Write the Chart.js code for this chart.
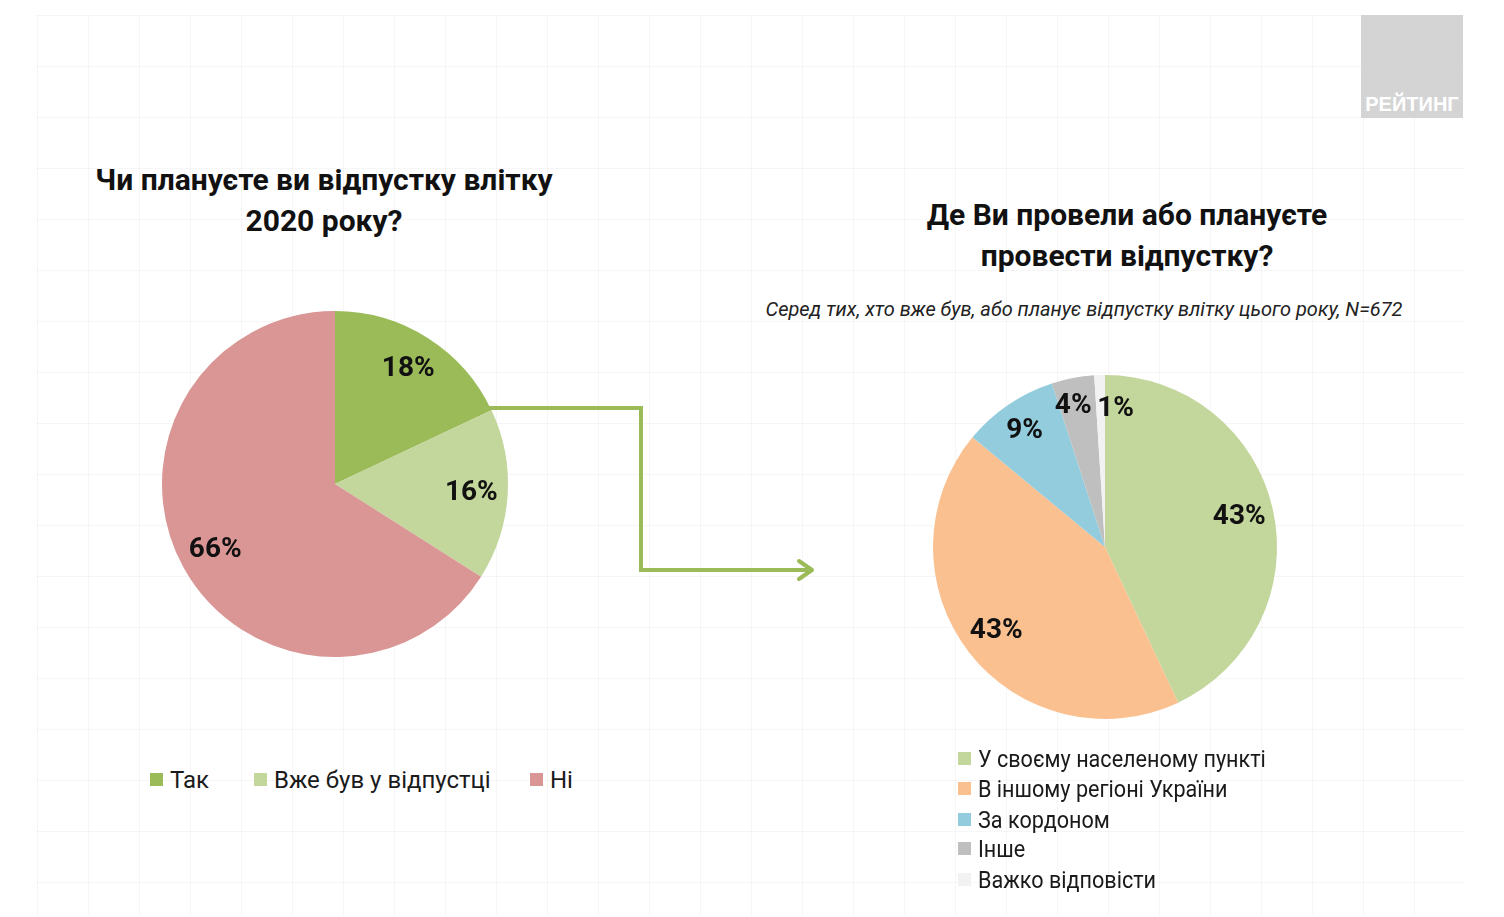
<!DOCTYPE html>
<html lang="uk">
<head>
<meta charset="utf-8">
<script src="https://cdn.jsdelivr.net/npm/chart.js@4.4.1/dist/chart.umd.min.js"></script>
<style>
    body {
        margin: 0;
        width: 1504px;
        height: 917px;
        background: #fff;
        position: relative;
        overflow: hidden;
        font-family: Roboto, "Liberation Sans", Arial, sans-serif;
        color: #1a1a1a;
    }
    #grid {
        position: absolute;
        left: 37px; top: 15px; width: 1428px; height: 900px;
        background-image:
            linear-gradient(rgba(0,0,0,0.035) 1px, transparent 1px),
            linear-gradient(90deg, rgba(0,0,0,0.035) 1px, transparent 1px);
        background-size: 51px 51px;
    }
    .title {
        position: absolute;
        font-weight: bold;
        font-size: 30px;
        line-height: 41px;
        text-align: center;
        white-space: nowrap;
        color: #111;
    }
    #sub {
        position: absolute;
        left: 684px; top: 297px; width: 800px;
        text-align: center;
        font-style: italic;
        font-size: 20px;
        color: #222;
    }
    #logo {
        position: absolute;
        left: 1361px; top: 15px; width: 102px; height: 103px;
        background: #d4d4d4;
    }
    #logo span {
        position: absolute;
        left: 0; right: 0; bottom: 2px;
        text-align: center;
        color: #fff;
        font-family: "Liberation Sans", Arial, sans-serif;
        font-weight: bold;
        font-size: 20px;
    }
    canvas { position: absolute; }
    #pie1 { left: 135px; top: 284px; }
    #pie2 { left: 905px; top: 347px; }
    .legend { position: absolute; font-size: 24px; color: #1a1a1a; }
    .legend .item { position: absolute; white-space: nowrap; }
    .legend .box {
        display: inline-block;
        width: 13px; height: 13px;
        margin-right: 7px;
        vertical-align: 2px;
    }
    .legend .txt { display: inline-block; transform-origin: left center; }
    #legend2 .txt { transform: scaleX(0.9); }
    svg { position: absolute; left: 0; top: 0; }
</style>
</head>
<body>
<div id="grid"></div>
<div id="logo"><span>РЕЙТИНГ</span></div>

<div class="title" style="left:24px; top:159px; width:600px;">Чи плануєте ви відпустку влітку<br>2020 року?</div>
<div class="title" style="left:827px; top:194px; width:600px;">Де Ви провели або плануєте<br>провести відпустку?</div>
<div id="sub">Серед тих, хто вже був, або планує відпустку влітку цього року, N=672</div>

<svg width="1504" height="917">
    <polyline points="487,408 641,408 641,570 811,570" fill="none" stroke="#9bbb59" stroke-width="4"/>
    <polyline points="799,561 812,570 799,579" fill="none" stroke="#9bbb59" stroke-width="4" stroke-linecap="round" stroke-linejoin="round"/>
</svg>

<canvas id="pie1" width="400" height="400"></canvas>
<canvas id="pie2" width="400" height="400"></canvas>

<div class="legend" id="legend1"></div>
<div class="legend" id="legend2"></div>

<script>
const planLabels = ['Так', 'Вже був у відпустці', 'Ні'];
const planValues = [18, 16, 66];
const planColors = ['#9bbb59', '#c3d69b', '#d99694'];

const placeLabels = ['У своєму населеному пункті', 'В іншому регіоні України', 'За кордоном', 'Інше', 'Важко відповісти'];
const placeValues = [43, 43, 9, 4, 1];
const placeColors = ['#c3d69b', '#fac090', '#93cddd', '#bfbfbf', '#f2f2f2'];

const labelFont = 'bold 28px Roboto, "Liberation Sans", Arial, sans-serif';

// підписи з відсотками всередині секторів
const pctLabels = {
    id: 'pctLabels',
    afterDatasetsDraw(chart, args, opts) {
        const ctx = chart.ctx;
        const meta = chart.getDatasetMeta(0);
        const data = chart.data.datasets[0].data;
        ctx.save();
        ctx.font = labelFont;
        ctx.fillStyle = '#111';
        ctx.textAlign = 'center';
        ctx.textBaseline = 'middle';
        meta.data.forEach((arc, i) => {
            const p = arc.getProps(['x', 'y', 'startAngle', 'endAngle', 'outerRadius']);
            const mid = (p.startAngle + p.endAngle) / 2;
            const shift = (opts.shift && opts.shift[i]) || [0, 0];
            const x = p.x + Math.cos(mid) * p.outerRadius * opts.radius + shift[0];
            const y = p.y + Math.sin(mid) * p.outerRadius * opts.radius + shift[1];
            ctx.fillText(data[i] + '%', x, y);
        });
        ctx.restore();
    }
};

function createPie(canvasId, labels, values, colors, padding, labelOpts) {
    const canvas = document.getElementById(canvasId);
    return new Chart(canvas.getContext('2d'), {
        type: 'pie',
        data: {
            labels: labels,
            datasets: [{
                data: values,
                backgroundColor: colors,
                borderWidth: 0
            }]
        },
        options: {
            responsive: false,
            animation: false,
            layout: { padding: padding },
            plugins: {
                legend: { display: false },
                tooltip: { enabled: false },
                pctLabels: labelOpts
            }
        },
        plugins: [pctLabels]
    });
}

function buildLegend(id, labels, colors, positions) {
    const legend = document.getElementById(id);
    labels.forEach((label, i) => {
        const item = document.createElement('div');
        item.className = 'item';
        item.style.left = positions[i][0] + 'px';
        item.style.top = positions[i][1] + 'px';
        item.innerHTML = '<span class="box" style="background:' + colors[i] + '"></span><span class="txt">' + label + '</span>';
        legend.appendChild(item);
    });
}

createPie('pie1', planLabels, planValues, planColors, 27, { radius: 0.79 });
createPie('pie2', placeLabels, placeValues, placeColors, 28, {
    radius: 0.8,
    shift: [[0, 0], [0, 0], [-3, -2], [-6, -6], [15, 0]]
});

buildLegend('legend1', planLabels, planColors, [[150, 766], [254, 766], [530, 766]]);
buildLegend('legend2', placeLabels, placeColors, [[958, 745], [958, 775], [958, 806], [958, 835], [958, 866]]);
</script>
</body>
</html>
